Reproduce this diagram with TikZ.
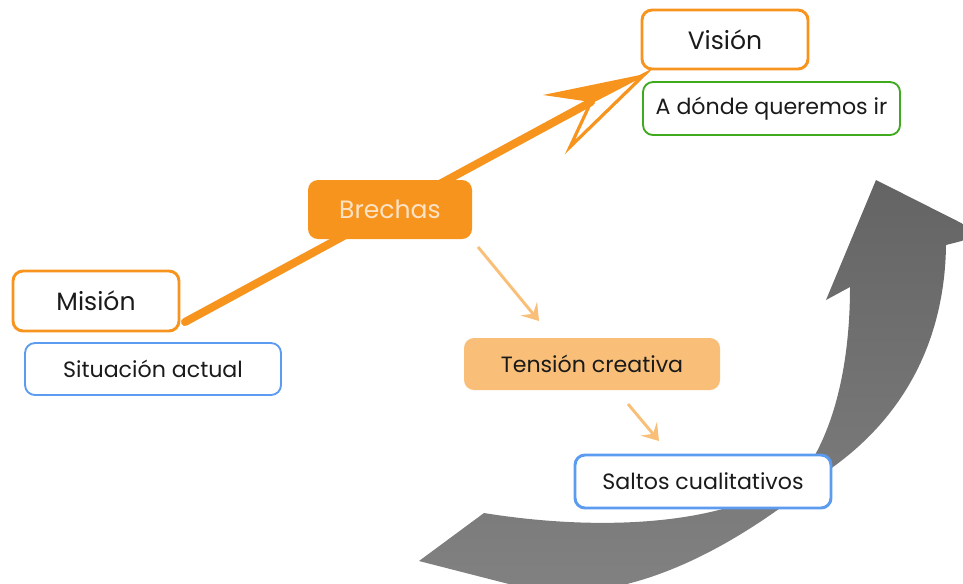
\documentclass[tikz,border=0pt]{standalone}
\usepackage{fontspec}
\setmainfont{Poppins}
\usetikzlibrary{arrows.meta}
\definecolor{org}{HTML}{F7941E}
\definecolor{lorg}{HTML}{F9BF78}
\definecolor{blu}{HTML}{5B9BF0}
\definecolor{grn}{HTML}{3FAA1E}
\definecolor{peach}{HTML}{FDE3C6}
\definecolor{txt}{HTML}{1A1A1A}
\tikzset{
  box/.style={rounded corners=7.5pt, align=center, text=txt, inner sep=0pt},
  bigtxt/.style={font=\fontsize{18.8}{22}\selectfont},
  smalltxt/.style={font=\fontsize{16.6}{20}\selectfont},
  lightarrow/.style={draw=lorg, line width=2.2pt, -{Stealth[length=12pt,width=16pt,inset=5pt]}},
}
\begin{document}
\begin{tikzpicture}[x=0.75pt,y=-0.75pt]
\useasboundingbox (0,0) rectangle (963,583);
\begin{scope}
\clip (0,0) rectangle (963,583);
% big gray arrow
\shade[top color={rgb,255:red,100;green,100;blue,100}, bottom color={rgb,255:red,130;green,130;blue,130}]
  (484,513) .. controls (620,535) and (765,522) .. (815,455)
  .. controls (845,400) and (850,330) .. (850,287)
  -- (826,300) -- (876,180) -- (985,235) -- (946,245)
  .. controls (945,330) and (912,410) .. (833,467)
  .. controls (740,545) and (640,600) .. (540,592)
  -- (419,561) -- cycle;
\end{scope}

% nodes
\node[box, draw=org, line width=2.2pt, minimum width=124.5pt, minimum height=44.25pt, bigtxt] (vision) at (725,39.5) {Visión};
\node[box, draw=grn, line width=1.4pt, minimum width=192.75pt, minimum height=39.75pt, smalltxt] (donde) at (771.5,108.5) {A dónde queremos ir};
\node[box, draw=org, line width=2.2pt, minimum width=124.5pt, minimum height=45pt, bigtxt] (mision) at (96,301) {Misión};
\node[box, draw=blu, line width=1.4pt, minimum width=192pt, minimum height=39pt, smalltxt] (situacion) at (153,369) {Situación actual};

% main orange arrow
\coordinate (mstart) at (185,322);
\coordinate (notch) at (591,102);
\coordinate (vtip) at (645,74);
\coordinate (ubarb) at (543,95);
\coordinate (lbarb) at (570,147);
\draw[org, line width=6pt, line cap=round] (mstart) -- (notch);
\fill[org] (vtip) -- (ubarb) -- (notch) -- cycle;
\draw[org, line width=2.4pt, miter limit=20] (notch) -- (lbarb) -- (vtip) -- cycle;

\node[box, fill=org, minimum width=123pt, minimum height=44.25pt, bigtxt, text=peach] (brechas) at (390,209.5) {Brechas};
\node[box, fill=lorg, minimum width=192pt, minimum height=39pt, smalltxt] (tension) at (592,364) {Tensión creativa};
\node[box, draw=blu, fill=white, line width=2.2pt, minimum width=192pt, minimum height=39.75pt, smalltxt] (saltos) at (703,481.5) {Saltos cualitativos};

\coordinate (a1s) at (478,247);
\coordinate (a1e) at (539,321);
\coordinate (a2s) at (628,404);
\coordinate (a2e) at (659,441);
\draw[lightarrow] (a1s) -- (a1e);
\draw[lightarrow] (a2s) -- (a2e);
\end{tikzpicture}
\end{document}
